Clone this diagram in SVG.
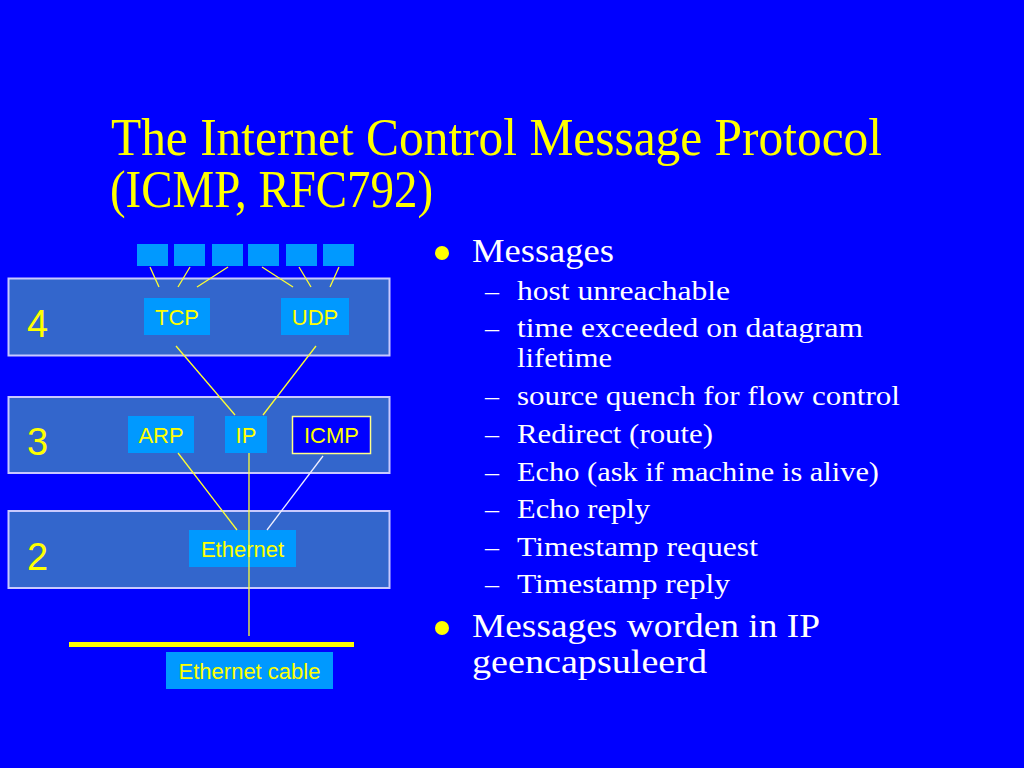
<svg xmlns="http://www.w3.org/2000/svg" width="1024" height="768" viewBox="0 0 1024 768">
<defs>
<style>
.layer{fill:#3366CC;stroke:#C8C8FF;stroke-width:2}
.node{fill:#0099FF}
.blk{fill:#0099FF}
.lbl{font-family:"Liberation Sans",Arial,sans-serif;font-size:22px;fill:#FFFF00;text-anchor:middle}
.num{font-family:"Liberation Sans",Arial,sans-serif;font-size:38px;fill:#FFFF00}
.title{font-family:"Liberation Serif","Times New Roman",serif;font-size:52px;fill:#FFFF00}
.main{font-family:"Liberation Serif","Times New Roman",serif;font-size:34px;fill:#FFFFFF}
.sub{font-family:"Liberation Serif","Times New Roman",serif;font-size:28px;fill:#FFFFFF}
.conn{stroke:#FFFF33;stroke-width:1.3;fill:none}
</style>
</defs>
<rect width="1024" height="768" fill="#0000FF"/>
<g id="title">
<text class="title" x="111" y="155" textLength="771" lengthAdjust="spacingAndGlyphs">The Internet Control Message Protocol</text>
<text class="title" x="110" y="207" textLength="323" lengthAdjust="spacingAndGlyphs">(ICMP, RFC792)</text>
</g>
<g id="layer4"><rect class="layer" x="8.5" y="278.5" width="381" height="77"/><text class="num" x="27" y="337">4</text></g>
<g id="layer3"><rect class="layer" x="8.5" y="397" width="381" height="76"/><text class="num" x="27" y="455">3</text></g>
<g id="layer2"><rect class="layer" x="8.5" y="511" width="381" height="77"/><text class="num" x="27" y="570">2</text></g>
<g id="apps">
<rect class="blk" x="137" y="244" width="31" height="22"/>
<rect class="blk" x="174" y="244" width="31" height="22"/>
<rect class="blk" x="212" y="244" width="31" height="22"/>
<rect class="blk" x="248" y="244" width="31" height="22"/>
<rect class="blk" x="286" y="244" width="31" height="22"/>
<rect class="blk" x="323" y="244" width="31" height="22"/>
</g>
<g id="tcp"><rect class="node" x="144" y="298" width="66" height="37"/><text class="lbl" x="177" y="325">TCP</text></g>
<g id="udp"><rect class="node" x="281" y="298" width="68" height="37"/><text class="lbl" x="315" y="325">UDP</text></g>
<g id="arp"><rect class="node" x="128" y="416" width="66" height="37"/><text class="lbl" x="161" y="443">ARP</text></g>
<g id="ip"><rect class="node" x="225" y="416" width="42" height="37"/><text class="lbl" x="246" y="443">IP</text></g>
<g id="icmp"><rect x="292.5" y="416.5" width="78" height="37" fill="#0000FF" stroke="#FFFF88" stroke-width="1.5"/><text class="lbl" x="331.5" y="443">ICMP</text></g>
<g id="ethernet"><rect class="node" x="189" y="530" width="107" height="37"/><text class="lbl" x="242.5" y="557">Ethernet</text></g>
<g id="cable"><line x1="69" y1="644.5" x2="354" y2="644.5" stroke="#FFFF00" stroke-width="5"/><rect class="node" x="166" y="652" width="167" height="37"/><text class="lbl" x="249.5" y="679">Ethernet cable</text></g>
<g id="connectors">
<line class="conn" x1="150" y1="267" x2="159" y2="287"/>
<line class="conn" x1="190" y1="267" x2="178" y2="287"/>
<line class="conn" x1="228" y1="267" x2="197" y2="287"/>
<line class="conn" x1="262" y1="267" x2="293" y2="287"/>
<line class="conn" x1="299" y1="267" x2="311" y2="287"/>
<line class="conn" x1="339" y1="267" x2="330" y2="287"/>
<line class="conn" x1="176" y1="346" x2="235" y2="415"/>
<line class="conn" x1="316" y1="346" x2="263" y2="415"/>
<line class="conn" x1="178" y1="453" x2="237" y2="530"/>
<line class="conn" x1="249" y1="453" x2="249" y2="636"/>
<line x1="323" y1="456" x2="267" y2="530" stroke="#F0F0FF" stroke-width="1.3"/>
</g>
<g id="bullets">
<circle cx="442" cy="253" r="7" fill="#FFFF00"/>
<text class="main" x="472" y="262" textLength="142" lengthAdjust="spacingAndGlyphs">Messages</text>
<text class="sub" x="485" y="300">–</text><text class="sub" x="517" y="300" textLength="213" lengthAdjust="spacingAndGlyphs">host unreachable</text>
<text class="sub" x="485" y="337">–</text><text class="sub" x="517" y="337" textLength="346" lengthAdjust="spacingAndGlyphs">time exceeded on datagram</text>
<text class="sub" x="517" y="367" textLength="95" lengthAdjust="spacingAndGlyphs">lifetime</text>
<text class="sub" x="485" y="405">–</text><text class="sub" x="517" y="405" textLength="383" lengthAdjust="spacingAndGlyphs">source quench for flow control</text>
<text class="sub" x="485" y="443">–</text><text class="sub" x="517" y="443" textLength="196" lengthAdjust="spacingAndGlyphs">Redirect (route)</text>
<text class="sub" x="485" y="481">–</text><text class="sub" x="517" y="481" textLength="362" lengthAdjust="spacingAndGlyphs">Echo (ask if machine is alive)</text>
<text class="sub" x="485" y="518">–</text><text class="sub" x="517" y="518" textLength="133" lengthAdjust="spacingAndGlyphs">Echo reply</text>
<text class="sub" x="485" y="556">–</text><text class="sub" x="517" y="556" textLength="241" lengthAdjust="spacingAndGlyphs">Timestamp request</text>
<text class="sub" x="485" y="593">–</text><text class="sub" x="517" y="593" textLength="213" lengthAdjust="spacingAndGlyphs">Timestamp reply</text>
<circle cx="442" cy="628" r="7" fill="#FFFF00"/>
<text class="main" x="472" y="637" textLength="348" lengthAdjust="spacingAndGlyphs">Messages worden in IP</text>
<text class="main" x="472" y="673" textLength="235" lengthAdjust="spacingAndGlyphs">geencapsuleerd</text>
</g>
</svg>
